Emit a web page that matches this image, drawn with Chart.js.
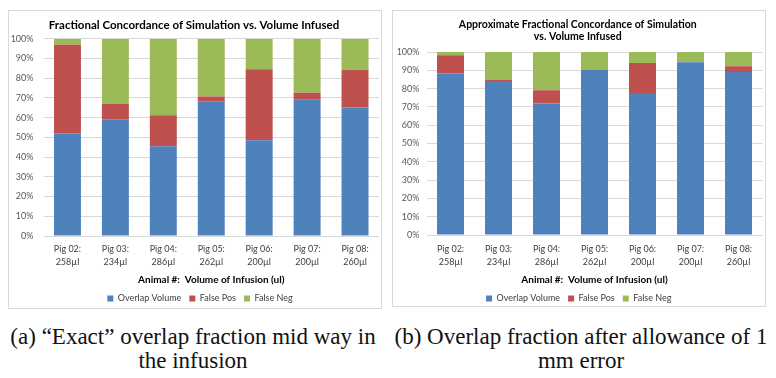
<!DOCTYPE html>
<html>
<head>
<meta charset="utf-8">
<script src="https://cdn.jsdelivr.net/npm/chart.js@4"></script>
<style>
  html, body { margin: 0; padding: 0; background: #fff; }
  body { width: 776px; height: 378px; position: relative; overflow: hidden; }
  .wrap { position: absolute; }
  .wrap canvas { position: absolute; left: 0; top: 0; }
  .frame { position: absolute; border: 1px solid #d9d9d9; box-sizing: border-box; pointer-events: none; }
  .cap { position: absolute; font-family: "Liberation Serif", serif; font-size: 23px; color: #111; text-align: center; white-space: nowrap; line-height: 24px; }
</style>
</head>
<body>
<div class="wrap" style="left:9px; top:11px;"><canvas id="chartA"></canvas></div>
<div class="wrap" style="left:393px; top:11px;"><canvas id="chartB"></canvas></div>
<div class="frame" style="left:8px; top:10px; width:374px; height:299px;"></div>
<div class="frame" style="left:392px; top:10px; width:374px; height:297px;"></div>
<div class="cap" style="left:0px; top:325px; width:386px;">(a) “Exact” overlap fraction mid way in<br>the infusion</div>
<div class="cap" style="left:388px; top:325px; width:386px;">(b) Overlap fraction after allowance of 1<br>mm error</div>
<script>
const categories = [["Pig 02:", "258µl"], ["Pig 03:", "234µl"], ["Pig 04:", "286µl"], ["Pig 05:", "262µl"], ["Pig 06:", "200µl"], ["Pig 07:", "200µl"], ["Pig 08:", "260µl"]];
const seriesNames = ["Overlap Volume", "False Pos", "False Neg"];
const overlapA  = [52.0, 59.2, 45.5, 68.3, 48.6, 69.1, 65.1];
const falsePosA = [45.0,  7.9, 15.7,  2.4, 35.9,  3.6, 19.2];
const falseNegA = [ 3.0, 32.9, 38.8, 29.3, 15.5, 27.3, 15.7];
const overlapB  = [88.2, 84.2, 71.8, 90.4, 77.6, 94.4, 89.1];
const falsePosB = [10.0,  0.7,  7.3,  0.0, 16.4,  0.0,  3.1];
const falseNegB = [ 1.8, 15.1, 20.9,  9.6,  6.0,  5.6,  7.8];
const yTicks = [0, 10, 20, 30, 40, 50, 60, 70, 80, 90, 100];
const titleA = "Fractional Concordance of Simulation vs. Volume Infused";
const titleB = ["Approximate Fractional Concordance of Simulation", "vs. Volume Infused"];
const xTitle = "Animal #:  Volume of Infusion (ul)";

const colors = ["#4F81BD", "#C0504D", "#9BBB59"];
const FONT = "Lato, 'Open Sans', sans-serif";

const legendShift = {
  id: "legendShift",
  afterLayout(chart, args, opts) {
    const s = opts.shift || 0;
    if (chart.legend && s) { chart.legend.left += s; chart.legend.right += s; }
  }
};

function makeChart(id, w, h, values, title, cfg) {
  const cv = document.getElementById(id);
  cv.width = w; cv.height = h;
  cv.style.width = w + "px"; cv.style.height = h + "px";
  return new Chart(cv, {
    type: "bar",
    data: {
      labels: categories,
      datasets: values.map((v, i) => ({
        label: seriesNames[i],
        data: v,
        backgroundColor: colors[i],
        borderWidth: 0,
        barPercentage: 0.5625,
        categoryPercentage: 1.0
      }))
    },
    plugins: [legendShift],
    options: {
      responsive: false,
      animation: false,
      devicePixelRatio: 1,
      layout: { padding: cfg.padding },
      plugins: {
        legendShift: { shift: cfg.legendShift },
        tooltip: { enabled: false },
        title: {
          display: true,
          text: title,
          color: "#000",
          font: { family: FONT, size: cfg.titleSize, weight: "bold", lineHeight: cfg.titleLH },
          padding: cfg.titlePad
        },
        legend: {
          position: "bottom",
          labels: {
            boxWidth: 6, boxHeight: 6,
            color: "#404040",
            font: { family: FONT, size: 9 },
            padding: 8
          }
        }
      },
      scales: {
        x: {
          stacked: true,
          afterFit: s => { s.height = cfg.xHeight; },
          grid: { display: false, drawTicks: false },
          border: { display: false },
          ticks: { color: "#404040", font: { family: FONT, size: 9, lineHeight: 13 / 9 }, padding: cfg.xTickPad, maxRotation: 0, autoSkip: false },
          title: { display: true, text: xTitle, color: "#000", font: { family: FONT, size: 10, weight: "bold", lineHeight: 1.2 }, padding: { top: 4, bottom: 0 } }
        },
        y: {
          stacked: true,
          min: 0, max: 100,
          afterFit: s => { s.width = cfg.yWidth; },
          afterBuildTicks: s => { s.ticks = yTicks.map(v => ({ value: v })); },
          grid: { color: "#d9d9d9", lineWidth: 1, drawTicks: false },
          border: { display: false },
          ticks: { color: "#595959", font: { family: FONT, size: 9 }, padding: cfg.yTickPad, callback: v => v + "%" }
        }
      }
    }
  });
}

makeChart("chartA", 372, 302, [overlapA, falsePosA, falseNegA], titleA, {
  padding: { top: 0, right: 2, bottom: 0, left: 0 },
  titleSize: 11.5, titleLH: 1.2, titlePad: { top: 7, bottom: 7 },
  yWidth: 34.5, yTickPad: 10, xTickPad: 7, xHeight: 50, legendShift: 6
});
makeChart("chartB", 372, 302, [overlapB, falsePosB, falseNegB], titleB, {
  padding: { top: 0, right: 2.5, bottom: 0, left: 0 },
  titleSize: 10.5, titleLH: 12 / 10.5, titlePad: { top: 8, bottom: 9 },
  yWidth: 33.5, yTickPad: 7, xTickPad: 8, xHeight: 51, legendShift: 1
});
</script>
</body>
</html>
